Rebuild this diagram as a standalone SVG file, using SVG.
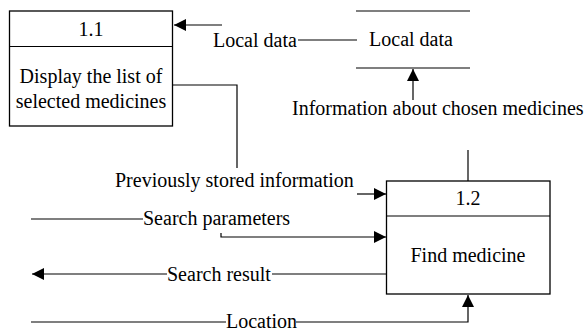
<svg xmlns="http://www.w3.org/2000/svg" width="586" height="333" viewBox="0 0 586 333">
<style>
.box{fill:#fff;stroke:#000;stroke-width:1.3}
.ln{fill:none;stroke:#000;stroke-width:1.2}
</style>
<defs>
<marker id="ah" viewBox="0 0 10 10" refX="10" refY="5" markerWidth="12" markerHeight="12" markerUnits="userSpaceOnUse" orient="auto"><path d="M0,0L10,5L0,10z" fill="#000"/></marker>
</defs>
<rect width="586" height="333" fill="#fff"/>
<g id="connectors">
<path class="ln" d="M222,25H174" marker-end="url(#ah)"/>
<path class="ln" d="M298,40H357"/>
<path class="ln" d="M413,100V69" marker-end="url(#ah)"/>
<path class="ln" d="M173,85H237V168"/>
<path class="ln" d="M357,194H386" marker-end="url(#ah)"/>
<path class="ln" d="M468,150V181"/>
<path class="ln" d="M31,219H143"/>
<path class="ln" d="M221,233V237H386" marker-end="url(#ah)"/>
<path class="ln" d="M167,274H32" marker-end="url(#ah)"/>
<path class="ln" d="M272,274H387"/>
<path class="ln" d="M31,322H226"/>
<path class="ln" d="M296,322H468V295" marker-end="url(#ah)"/>
</g>
<g font-family="Liberation Serif, Times New Roman, DejaVu Serif, serif" font-size="20" fill="#000">
<g id="labels">
<text x="213" y="47">Local data</text>
<text x="292" y="115">Information about chosen medicines</text>
<text x="115" y="187">Previously stored information</text>
<text x="143" y="225">Search parameters</text>
<text x="167" y="281">Search result</text>
<text x="226" y="328">Location</text>
</g>
<g id="node-1-1">
<rect class="box" x="9.5" y="11" width="163" height="115"/>
<line class="ln" x1="9.5" y1="46.5" x2="172.5" y2="46.5"/>
<text text-anchor="middle" x="91" y="36">1.1</text>
<text text-anchor="middle" x="91" y="83">Display the list of</text>
<text text-anchor="middle" x="91" y="108">selected medicines</text>
</g>
<g id="store-local-data">
<line class="ln" x1="356" y1="11" x2="470" y2="11"/>
<line class="ln" x1="356" y1="68" x2="470" y2="68"/>
<text text-anchor="middle" x="411" y="46">Local data</text>
</g>
<g id="node-1-2">
<rect class="box" x="386.5" y="181" width="163.5" height="113"/>
<line class="ln" x1="386.5" y1="216" x2="550" y2="216"/>
<text text-anchor="middle" x="468" y="205">1.2</text>
<text text-anchor="middle" x="468" y="262">Find medicine</text>
</g>
</g>
</svg>
